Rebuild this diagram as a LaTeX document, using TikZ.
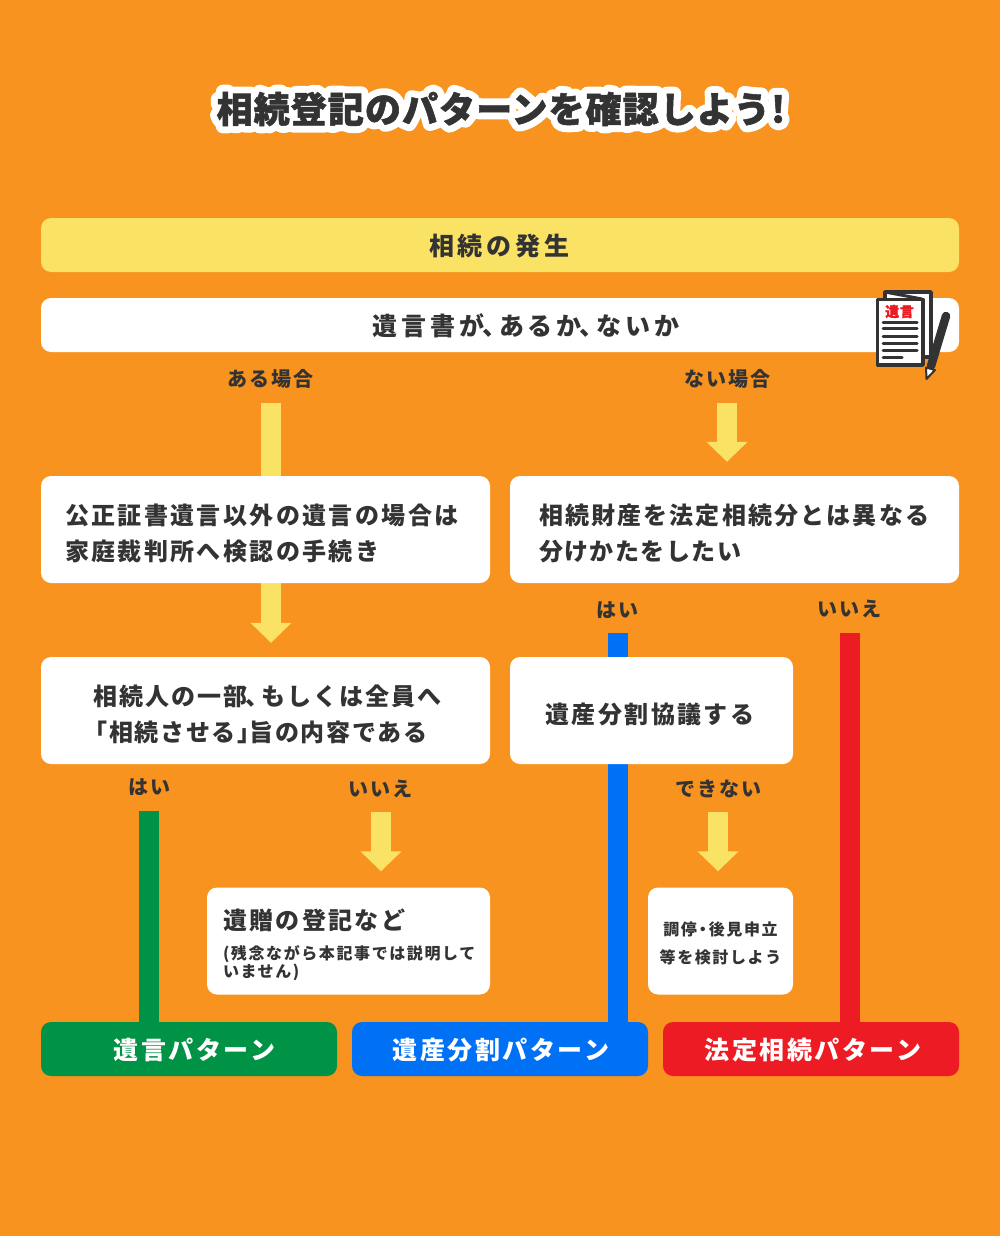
\documentclass[tikz,border=0pt]{standalone}
\usepackage{fontspec}
\usetikzlibrary{arrows.meta}
\usetikzlibrary{backgrounds}
\newfontfamily\jpfont[LetterSpace=10]{Noto Sans CJK JP}
\newfontfamily\titlefont[LetterSpace=3,FakeBold=1.5]{Noto Sans CJK JP}
\newfontfamily\halofont[LetterSpace=3,FakeBold=40]{Noto Sans CJK JP}
\newcommand{\lift}[1]{\rule{0pt}{#1pt}}
\newcommand{\tenmark}{\kern-2pt、\kern-8pt}
\newcommand{\dotmark}{\kern-2pt・\kern-2pt}
\definecolor{bgorange}{HTML}{F7931E}
\definecolor{softyellow}{HTML}{F9E264}
\definecolor{inkgray}{HTML}{333333}
\definecolor{flowgreen}{HTML}{009245}
\definecolor{flowblue}{HTML}{0071F5}
\definecolor{flowred}{HTML}{ED1C24}
\tikzset{
  panel/.style={fill=white, rounded corners=10pt, inner sep=0pt, text=inkgray, font=\jpfont\bfseries\fontsize{24}{36}\selectfont},
  leftpanel/.style={panel, align=left, inner xsep=24pt, text width=#1, minimum height=107pt},
  midpanel/.style={panel, align=center, minimum width=#1, minimum height=107pt},
  result/.style={rounded corners=10pt, inner sep=0pt, text=white, minimum width=296pt, minimum height=54pt, font=\jpfont\bfseries\fontsize{25}{30}\selectfont},
  answer/.style={inner sep=0pt, text=inkgray, font=\jpfont\bfseries\fontsize{20}{24}\selectfont},
  headline/.style={inner sep=0pt, text=inkgray, font=\titlefont\bfseries\fontsize{36}{40}\selectfont},
  yflow/.style={draw=softyellow, line width=20pt, -{Triangle[length=20pt,width=40pt]}},
  bar/.style={line width=20pt},
}
\begin{document}
\begin{tikzpicture}[x=1pt,y=-1pt]
  % Title, white stroked text below the dark fill
  \node[headline] (title) at (501,109) {\pgfsetroundjoin\rlap{\color{white}\halofont\bfseries\fontsize{36.02}{40}\selectfont 相続登記のパターンを確認しよう!}相続登記のパターンを確認しよう!\pgfsetmiterjoin};

  % Top bands
  \node[panel, fill=softyellow, minimum width=918pt, minimum height=54pt, font=\jpfont\bfseries\addfontfeature{LetterSpace=15}\fontsize{25}{30}\selectfont] (hassei) at (500,245) {\lift{24}\kern-2pt 相続の発生};
  \node[panel, minimum width=918pt, minimum height=54pt, font=\jpfont\bfseries\addfontfeature{LetterSpace=15}\fontsize{25}{30}\selectfont] (yuigonsho) at (500,325) {\lift{24}\hspace*{52pt}遺言書が\tenmark あるか\tenmark ないか};

  \node[answer] (aru) at (270,379) {ある場合};
  \node[answer] (nai) at (727,379) {ない場合};

  % Question boxes
  \node[leftpanel=401pt] (kosei) at (265.5,529.5) {\lift{29}公正証書遺言以外の遺言の場合は\\家庭裁判所へ検認の手続き};
  \node[panel, align=left, inner xsep=29pt, text width=391pt, minimum height=107pt] (zaisan) at (734.5,529.5) {\lift{29}\addfontfeature{LetterSpace=9}相続財産を法定相続分とは異なる\\\addfontfeature{LetterSpace=6}分けかたをしたい};
  \node[midpanel=449pt] (bubun) at (265.5,710.5) {\lift{29}\hspace*{4pt}\addfontfeature{LetterSpace=8}相続人の一部\tenmark もしくは全員へ\\\addfontfeature{LetterSpace=7}「相続させる」\kern-12pt 旨の内容である\hspace*{20pt}};
  \node[midpanel=283pt] (kyogi) at (651.5,710.5) {\lift{29}遺産分割協議する\kern3pt};

  \node[answer] (hai1) at (149,787) {はい};
  \node[answer] (iie1) at (380,789) {いいえ};
  \node[answer] (dekinai) at (718,789) {できない};
  \node[answer] (hai2) at (617,610) {はい};
  \node[answer] (iie2) at (849,609) {いいえ};

  \node[panel, align=left, inner xsep=16pt, text width=251pt, minimum height=107pt] (izo) at (348.5,941) {\lift{29}遺贈の登記など\\[12pt]\fontsize{16}{18}\selectfont (残念ながら本記事では説明して\\[-18pt]いません)};
  \node[panel, align=center, minimum width=145pt, minimum height=107pt, font=\jpfont\bfseries\fontsize{16}{28}\selectfont] (chotei) at (720.5,941) {\lift{18}調停\dotmark 後見申立\\等を検討しよう};

  % Result boxes
  \node[result, fill=flowgreen] (yuigon) at (189,1049) {\lift{24}\hspace*{11pt}遺言パターン};
  \node[result, fill=flowblue] (isan) at (500,1049) {\lift{24}\hspace*{2pt}遺産分割パターン};
  \node[result, fill=flowred] (hotei) at (811,1049) {\lift{24}\hspace*{4pt}法定相続パターン};

  % Free ends of the connectors
  \coordinate (s1) at (271,403);
  \coordinate (s2) at (727,403);
  \coordinate (s3) at (381,812);
  \coordinate (s4) at (718,812);
  \coordinate (b1) at (149,811);
  \coordinate (b2) at (618,633);
  \coordinate (b3) at (850,633);

  \begin{pgfonlayer}{background}
    \fill[bgorange] (0,0) rectangle (1000,1236);
    \draw[yflow, shorten >=14pt] (s1) -- (s1 |- bubun.north);
    \draw[yflow, shorten >=14pt] (s2) -- (s2 |- zaisan.north);
    \draw[yflow, shorten >=16pt] (s3) -- (s3 |- izo.north);
    \draw[yflow, shorten >=16pt] (s4) -- (s4 |- chotei.north);
    \draw[bar, flowgreen] (b1) -- (b1 |- yuigon.north);
    \draw[bar, flowblue] (b2) -- (b2 |- isan.north);
    \draw[bar, flowred] (b3) -- (b3 |- hotei.north);
  \end{pgfonlayer}

  % Document and pen
  \draw[fill=white, draw=inkgray, line width=3.5pt, line join=round] (885,292) -- (931,292) -- (931,357) -- (885,357) -- cycle;
  \draw[inkgray, line width=3pt] (885,292) -- (922,299);
  \draw[fill=white, draw=inkgray, line width=3.5pt, line join=round] (877.5,299.5) -- (923,299.5) -- (923,365) -- (877.5,365) -- cycle;
  \node[inner sep=0pt, text=flowred, font=\jpfont\bfseries\addfontfeature{LetterSpace=4,FakeBold=1}\fontsize{14}{15}\selectfont] (seal) at (899.5,311.5) {遺言};
  \foreach \y in {322,328,336,343,350} {
    \draw[inkgray, line width=3pt, line cap=round] (883,\y) -- (917,\y);
  }
  \draw[inkgray, line width=3pt, line cap=round] (883,357) -- (902,357);
  \draw[inkgray, line width=8.5pt, line cap=round] (946,316) -- (931,366);
  \draw[fill=white, draw=inkgray, line width=2pt, line join=round] (926,367.5) -- (935,370) -- (926.5,379) -- cycle;
\end{tikzpicture}
\end{document}
